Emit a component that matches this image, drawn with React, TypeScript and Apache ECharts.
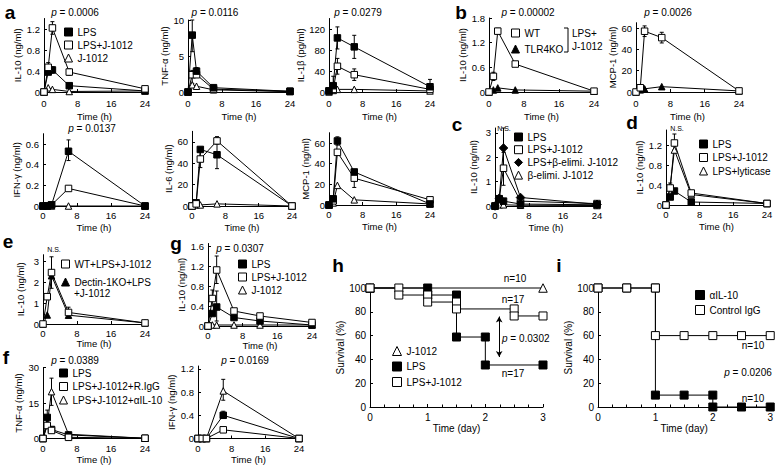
import React, { useEffect, useRef } from "react";
import * as echarts from "echarts";

const FONT = "'Liberation Sans', Arial, Helvetica, sans-serif";
const BLACK = "#000";

// ---------------- data ----------------
const hours = [0, 1, 2, 6, 24];
const hoursG = [0, 1, 2, 6, 12, 24];

// a: LPS / LPS+J-1012 / J-1012
const aIL10_LPS = [0, 0.38, 0.42, 0.12, 0.02];
const aIL10_LPSJ = [0, 0.47, 1.22, 0.38, 0.06];
const aIL10_J = [0, 0.08, 0.05, 0.01, 0.02];
const aIL10_err = [[1, 0.38, 0.56], [2, 1.1, 1.34], [6, 0.32, 0.44], [2, 0.36, 0.48]];

const aTNF_LPS = [0, 7.9, 2.9, 0.6, 0.1];
const aTNF_LPSJ = [0, 2.4, 2.4, 0.4, 0.1];
const aTNF_J = [0, 1.0, 0.8, 0.3, 0.05];
const aTNF_err = [[1, 5.6, 10], [1, 1.2, 3.0], [2, 2.2, 3.4]];

const aIL1b_LPS = [2, 12, 103, 86, 10];
const aIL1b_LPSJ = [2, 5, 49, 33, 5];
const aIL1b_J = [0, 3, 5, 5, 2];
const aIL1b_err = [[1, 0, 30], [2, 82, 124], [6, 64, 108], [24, 0, 24], [2, 34, 64], [6, 22, 44]];

const aIFN_LPS = [0, 0, 0.01, 0.53, 0];
const aIFN_LPSJ = [0, 0, 0.01, 0.17, 0];
const aIFN_J = [0, 0, 0, 0, 0];
const aIFN_err = [[6, 0.44, 0.64], [6, 0.15, 0.19]];

const aIL6_LPS = [0, 3, 53, 48, 0];
const aIL6_LPSJ = [0, 2, 44, 61, 0];
const aIL6_J = [0, 1, 1, 2, 0];
const aIL6_err = [[2, 36, 52], [6, 35, 60], [6, 58, 65]];

const aMCP_LPS = [0, 6, 62, 32, 1];
const aMCP_LPSJ = [0, 4, 51, 26, 5];
const aMCP_J = [0, 2, 19, 5, 1];
const aMCP_err = [[2, 58, 66], [6, 17, 31]];

// b: WT / TLR4KO (LPS+J-1012)
const bIL10_WT = [0, 0.38, 1.48, 0.68, 0.02];
const bIL10_KO = [0, 0.05, 0.1, 0.05, 0.02];
const bIL10_err = [[1, 0.28, 0.48], [2, 1.42, 1.55], [6, 0.63, 0.73]];
const bMCP_WT = [0, 4, 57, 51, 1];
const bMCP_KO = [0, 2, 3, 5, 1];
const bMCP_err = [[2, 52, 62], [6, 46, 56]];

// c
const cLPS = [0, 0.28, 0.2, 0.08, 0.05];
const cLPSJ = [0, 0.3, 1.55, 0.2, 0.1];
const cLPSbJ = [0, 0.32, 2.38, 0.35, 0.07];
const cbJ = [0, 0.05, 0.05, 0.03, 0.02];
const c_err = [[2, 1.6, 3.2], [2, 0.85, 2.2]];

// d
const dLPS = [0, 0.16, 0.28, 0.06, 0.03];
const dLPSJ = [0, 0.34, 1.24, 0.24, 0.03];
const dLPSlyt = [0, 0.38, 1.1, 0.21, 0.03];
const d_err = [[2, 1.1, 1.42], [1, 0.3, 0.44]];

// e
const eWT = [0, 1.3, 2.45, 0.55, 0.05];
const eDectin = [0, 0.43, 2.3, 0.42, 0.05];
const e_err = [[2, 1.7, 3.2], [6, 0.3, 0.8]];

// f
const fTNF_LPS = [0, 8.9, 3.8, 1.5, 0.1];
const fTNF_IgG = [0, 5.5, 3.4, 0.5, 0.1];
const fTNF_aIL10 = [0, 6.0, 19.8, 1.8, 0.1];
const fTNF_err = [[2, 14, 25.5], [1, 5, 12]];
const fIFN_LPS = [0, 0, 0, 0.4, 0];
const fIFN_IgG = [0, 0, 0, 0.15, 0];
const fIFN_aIL10 = [0, 0, 0, 0.82, 0];
const fIFN_err = [[6, 0.66, 1.02], [6, 0.35, 0.47]];

// g
const gLPS = [0, 0.25, 0.38, 0.17, 0.1, 0.02];
const gLPSJ = [0, 0.55, 1.12, 0.3, 0.2, 0.07];
const gJ = [0, 0.02, 0.02, 0.02, 0.02, 0.02];
const g_err = [[2, 0.85, 1.4], [1, 0.4, 0.72], [2, 0.1, 0.7]];

// h survival (days, %)
const hJ_days = [0, 3];
const hJ_surv = [100, 100];
const hLPS_days = [0, 1, 1, 1.5, 1.5, 2, 2, 3];
const hLPS_surv = [100, 100, 94.1, 94.1, 58.8, 58.8, 35.3, 35.3];
const hLPSJ_days = [0, 0.5, 0.5, 1, 1, 1.5, 1.5, 2.5, 2.5, 3];
const hLPSJ_surv = [100, 100, 94.1, 94.1, 88.2, 88.2, 82.4, 82.4, 76.5, 76.5];
const hArrow = [2.24, 76, 42];

// i survival
const iAnti_days = [0, 0.5, 1, 1, 1.5, 2, 2, 2.5, 3];
const iAnti_surv = [100, 100, 100, 10, 10, 10, 0, 0, 0];
const iIgG_days = [0, 0.5, 1, 1, 1.5, 2, 2.5, 3];
const iIgG_surv = [100, 100, 100, 60, 60, 60, 60, 60];

// tick labels
const hourTicks = [0, 8, 16, 24];
const survTicks = [0, 20, 40, 60, 80, 100];

// p values
const pA1 = "0.0006", pA2 = "0.0116", pA3 = "0.0279", pB1 = "0.00002", pB2 = "0.0026";
const pA4 = "0.0137", pG = "0.0307", pF1 = "0.0389", pF2 = "0.0169", pH = "0.0302", pI = "0.0206";

// ---------------- helpers ----------------
const mk = {
  sqF: { symbol: "rect", fill: "#000" },
  sqO: { symbol: "rect", fill: "#fff" },
  triO: { symbol: "triangle", fill: "#fff" },
  triF: { symbol: "triangle", fill: "#000" },
  diaF: { symbol: "diamond", fill: "#000" },
};

const grids: any[] = [];
const xAxes: any[] = [];
const yAxes: any[] = [];
const series: any[] = [];
const legends: any[] = [];
const graphics: any[] = [];

function addPanel(p: any) {
  const gi = grids.length;
  const fs = p.fs || 9.5;
  grids.push({ left: p.box[0], top: p.box[1], width: p.box[2], height: p.box[3], containLabel: false });
  xAxes.push({
    type: "value",
    gridIndex: gi,
    min: 0,
    max: p.xMax,
    interval: p.xInterval,
    axisLine: { show: true, onZero: false, lineStyle: { color: BLACK, width: 1 } },
    axisTick: { show: true, inside: true, length: 3, lineStyle: { color: BLACK, width: 1 } },
    minorTick: p.minor
      ? { show: true, splitNumber: 4, length: 2.5, lineStyle: { color: BLACK, width: 1 } }
      : { show: false },
    axisLabel: { show: true, color: BLACK, fontSize: fs, fontFamily: FONT, margin: p.xMargin },
    splitLine: { show: false },
    minorSplitLine: { show: false },
    name: p.xName,
    nameLocation: "middle",
    nameGap: p.xNameGap,
    nameTextStyle: { color: BLACK, fontSize: fs, fontFamily: FONT },
  });
  yAxes.push({
    type: "value",
    gridIndex: gi,
    min: 0,
    max: p.yMax,
    axisLine: { show: true, onZero: false, lineStyle: { color: BLACK, width: 1 } },
    axisTick: { show: true, inside: true, length: 3, customValues: p.yTicks, lineStyle: { color: BLACK, width: 1 } },
    axisLabel: {
      show: true,
      color: BLACK,
      fontSize: fs,
      fontFamily: FONT,
      margin: 4,
      customValues: p.yTicks,
      formatter: (v: number) => (p.yTicks.some((t: number) => Math.abs(t - v) < 1e-9) ? String(v) : ""),
    },
    splitLine: { show: false },
    name: p.yName,
    nameLocation: "middle",
    nameRotate: 90,
    nameGap: p.yNameGap,
    nameTextStyle: { color: BLACK, fontSize: fs, fontFamily: FONT },
  });
  return gi;
}

function line(name: string, gi: number, xs: number[], ys: number[], m: any, size = 6.5, extra: any = {}) {
  return {
    type: "line",
    name,
    xAxisIndex: gi,
    yAxisIndex: gi,
    data: xs.map((x, i) => [x, ys[i]]),
    symbol: m.symbol,
    symbolSize: m.symbol === "diamond" ? size + 2 : size,
    showAllSymbol: true,
    itemStyle: { color: m.fill, borderColor: BLACK, borderWidth: 1 },
    lineStyle: { color: BLACK, width: 1 },
    emphasis: { disabled: true },
    clip: false,
    silent: true,
    z: 3,
    ...extra,
  };
}

function errBars(gi: number, errs: number[][]) {
  return {
    type: "custom",
    xAxisIndex: gi,
    yAxisIndex: gi,
    data: errs,
    z: 2,
    silent: true,
    clip: false,
    encode: { x: 0, y: [1, 2] },
    renderItem: (_params: any, api: any) => {
      const x = api.value(0);
      const lo = api.value(1);
      const hi = api.value(2);
      const a = api.coord([x, lo]);
      const b = api.coord([x, hi]);
      const st = { stroke: BLACK, lineWidth: 1, fill: null };
      return {
        type: "group",
        children: [
          { type: "line", shape: { x1: a[0], y1: a[1], x2: b[0], y2: b[1] }, style: st },
          { type: "line", shape: { x1: b[0] - 2, y1: b[1], x2: b[0] + 2, y2: b[1] }, style: st },
          { type: "line", shape: { x1: a[0] - 2, y1: a[1], x2: a[0] + 2, y2: a[1] }, style: st },
        ],
      };
    },
  };
}

function legend(left: number, top: number, gap: number, items: any[], size = 8, fs = 10) {
  legends.push({
    left,
    top,
    orient: "vertical",
    itemGap: gap,
    itemWidth: size,
    itemHeight: size,
    padding: 0,
    selectedMode: false,
    textStyle: { fontSize: fs, fontFamily: FONT, color: BLACK },
    data: items.map((it) => ({
      name: it[0],
      icon: it[1],
      itemStyle: { color: it[2], borderColor: BLACK, borderWidth: 1 },
    })),
  });
}

function txt(x: number, y: number, text: string, o: any = {}) {
  graphics.push({
    type: "text",
    x,
    y,
    silent: true,
    style: { text, fill: BLACK, fontSize: 10, fontFamily: FONT, align: "center", verticalAlign: "middle", ...o },
  });
}

function pval(x: number, y: number, v: string, align = "center") {
  graphics.push({
    type: "text",
    x,
    y,
    silent: true,
    style: {
      text: "{i|p} = " + v,
      fill: BLACK,
      fontSize: 10,
      fontFamily: FONT,
      align,
      verticalAlign: "middle",
      rich: { i: { fontStyle: "italic", fontSize: 10, fontFamily: FONT, fill: BLACK } },
    },
  });
}

function letter(x: number, y: number, t: string) {
  txt(x, y, t, { fontSize: 19, fontWeight: "bold" });
}

function buildOption() {
  const T = "Time (h)";
  // ---- a row 1 ----
  let g = addPanel({ box: [44, 18.5, 101, 73.5], xMax: 24, xInterval: 8, xName: T, xMargin: 6, xNameGap: 19, yMax: 1.4, yTicks: [0, 0.4, 0.8, 1.2], yName: "IL-10 (ng/ml)", yNameGap: 19 });
  series.push(errBars(g, aIL10_err), line("J-1012", g, hours, aIL10_J, mk.triO), line("LPS", g, hours, aIL10_LPS, mk.sqF), line("LPS+J-1012", g, hours, aIL10_LPSJ, mk.sqO));
  legend(64, 27, 3, [["LPS", "rect", "#000"], ["LPS+J-1012", "rect", "#fff"], ["J-1012", "triangle", "#fff"]]);
  pval(75, 12, pA1);

  g = addPanel({ box: [188, 20, 102, 72], xMax: 24, xInterval: 8, xName: T, xMargin: 6, xNameGap: 19, yMax: 10, yTicks: [0, 5, 10], yName: "TNF-α (ng/ml)", yNameGap: 19 });
  series.push(errBars(g, aTNF_err), line("J-1012", g, hours, aTNF_J, mk.triO), line("LPS+J-1012", g, hours, aTNF_LPSJ, mk.sqO), line("LPS", g, hours, aTNF_LPS, mk.sqF));
  pval(215, 12, pA2);

  g = addPanel({ box: [329, 18.5, 101, 73.5], xMax: 24, xInterval: 8, xName: T, xMargin: 6, xNameGap: 19, yMax: 140, yTicks: [0, 40, 80, 120], yName: "IL-1β (pg/ml)", yNameGap: 17 });
  series.push(errBars(g, aIL1b_err), line("J-1012", g, hours, aIL1b_J, mk.triO), line("LPS+J-1012", g, hours, aIL1b_LPSJ, mk.sqO), line("LPS", g, hours, aIL1b_LPS, mk.sqF));
  pval(358, 12, pA3);

  // ---- b ----
  g = addPanel({ box: [489, 18, 105, 74], xMax: 24, xInterval: 8, xName: T, xMargin: 6, xNameGap: 19, yMax: 1.8, yTicks: [0, 0.6, 1.2, 1.8], yName: "IL-10 (ng/ml)", yNameGap: 16 });
  series.push(errBars(g, bIL10_err), line("TLR4KO", g, hours, bIL10_KO, mk.triF), line("WT", g, hours, bIL10_WT, mk.sqO));
  legend(511, 28, 6, [["WT", "rect", "#fff"], ["TLR4KO", "triangle", "#000"]]);
  pval(528, 12, pB1);
  graphics.push({ type: "polyline", silent: true, shape: { points: [[564, 28], [568, 28], [568, 52], [564, 52]] }, style: { stroke: BLACK, lineWidth: 1, fill: null } });
  txt(572, 33, "LPS+", { align: "left" });
  txt(572, 46, "J-1012", { align: "left" });

  g = addPanel({ box: [636, 22.7, 103, 69.3], xMax: 24, xInterval: 8, xName: T, xMargin: 6, xNameGap: 19, yMax: 65, yTicks: [0, 20, 40, 60], yName: "MCP-1 (ng/ml)", yNameGap: 16.5 });
  series.push(errBars(g, bMCP_err), line("TLR4KO", g, hours, bMCP_KO, mk.triF), line("WT", g, hours, bMCP_WT, mk.sqO));
  pval(668, 12, pB2);

  // ---- a row 2 ----
  g = addPanel({ box: [43, 133.7, 102, 72.3], xMax: 24, xInterval: 8, xName: T, xMargin: 4, xNameGap: 16, yMax: 0.7, yTicks: [0, 0.2, 0.4, 0.6], yName: "IFN-γ (ng/ml)", yNameGap: 19.5 });
  series.push(errBars(g, aIFN_err), line("J-1012", g, hours, aIFN_J, mk.triO), line("LPS+J-1012", g, hours, aIFN_LPSJ, mk.sqO), line("LPS", g, hours, aIFN_LPS, mk.sqF));
  pval(92, 128, pA4);

  g = addPanel({ box: [192, 131.3, 100, 74.7], xMax: 24, xInterval: 8, xName: T, xMargin: 4, xNameGap: 16, yMax: 70, yTicks: [0, 20, 40, 60], yName: "IL-6 (ng/ml)", yNameGap: 16.5 });
  series.push(errBars(g, aIL6_err), line("J-1012", g, hours, aIL6_J, mk.triO), line("LPS", g, hours, aIL6_LPS, mk.sqF), line("LPS+J-1012", g, hours, aIL6_LPSJ, mk.sqO));

  g = addPanel({ box: [329, 132.7, 101, 72.3], xMax: 24, xInterval: 8, xName: T, xMargin: 4, xNameGap: 16, yMax: 70, yTicks: [0, 20, 40, 60], yName: "MCP-1 (ng/ml)", yNameGap: 16.5 });
  series.push(errBars(g, aMCP_err), line("J-1012", g, hours, aMCP_J, mk.triO), line("LPS+J-1012", g, hours, aMCP_LPSJ, mk.sqO), line("LPS", g, hours, aMCP_LPS, mk.sqF));

  // ---- c ----
  g = addPanel({ box: [495, 128, 102, 78], xMax: 24, xInterval: 8, xName: T, xMargin: 4, xNameGap: 16, yMax: 3.2, yTicks: [0, 1, 2, 3], yName: "IL-10 (ng/ml)", yNameGap: 16.5 });
  series.push(errBars(g, c_err), line("β-elimi. J-1012", g, hours, cbJ, mk.triO), line("LPS+J-1012", g, hours, cLPSJ, mk.sqO), line("LPS", g, hours, cLPS, mk.sqF), line("LPS+β-elimi. J-1012", g, hours, cLPSbJ, mk.diaF));
  legend(514, 132, 2.7, [["LPS", "rect", "#000"], ["LPS+J-1012", "rect", "#fff"], ["LPS+β-elimi. J-1012", "diamond", "#000"], ["β-elimi. J-1012", "triangle", "#fff"]]);
  txt(504, 128, "N.S.", { fontSize: 7 });

  // ---- d ----
  g = addPanel({ box: [666, 130, 101, 75], xMax: 24, xInterval: 8, xName: T, xMargin: 4, xNameGap: 16, yMax: 1.5, yTicks: [0, 0.4, 0.8, 1.2], yName: "IL-10 (ng/ml)", yNameGap: 16.5 });
  series.push(errBars(g, d_err), line("LPS+lyticase", g, hours, dLPSlyt, mk.triO), line("LPS", g, hours, dLPS, mk.sqF), line("LPS+J-1012", g, hours, dLPSJ, mk.sqO));
  legend(699, 139, 3.5, [["LPS", "rect", "#000"], ["LPS+J-1012", "rect", "#fff"], ["LPS+lyticase", "triangle", "#fff"]]);
  txt(677, 128, "N.S.", { fontSize: 7 });

  // ---- e ----
  g = addPanel({ box: [43, 254.7, 102, 69.3], xMax: 24, xInterval: 8, xName: T, xMargin: 4, xNameGap: 14, yMax: 3.3, yTicks: [0, 1, 2, 3], yName: "IL-10 (ng/ml)", yNameGap: 17.5 });
  series.push(errBars(g, e_err), line("Dectin-1KO+LPS", g, hours, eDectin, mk.triF), line("WT+LPS+J-1012", g, hours, eWT, mk.sqO));
  legend(61, 259, 8, [["WT+LPS+J-1012", "rect", "#fff"], ["Dectin-1KO+LPS", "triangle", "#000"]]);
  txt(74, 293, "+J-1012", { align: "left" });
  txt(54, 249, "N.S.", { fontSize: 7 });

  // ---- g ----
  g = addPanel({ box: [208, 243.5, 104, 82.5], xMax: 24, xInterval: 8, xName: T, xMargin: 4, xNameGap: 14, yMax: 1.65, yTicks: [0, 0.4, 0.8, 1.2, 1.6], yName: "IL-10 (ng/ml)", yNameGap: 15.5 });
  series.push(errBars(g, g_err), line("J-1012", g, hoursG, gJ, mk.triO), line("LPS", g, hoursG, gLPS, mk.sqF), line("LPS+J-1012", g, hoursG, gLPSJ, mk.sqO));
  legend(238, 259, 3, [["LPS", "rect", "#000"], ["LPS+J-1012", "rect", "#fff"], ["J-1012", "triangle", "#fff"]]);
  pval(240, 248, pG);

  // ---- f ----
  g = addPanel({ box: [43, 367.5, 102, 71], xMax: 24, xInterval: 8, xName: T, xMargin: 5, xNameGap: 15, yMax: 30, yTicks: [0, 15, 30], yName: "TNF-α (ng/ml)", yNameGap: 19.5 });
  series.push(errBars(g, fTNF_err), line("LPS+J-1012+αIL-10", g, hours, fTNF_aIL10, mk.triO), line("LPS", g, hours, fTNF_LPS, mk.sqF), line("LPS+J-1012+R.IgG", g, hours, fTNF_IgG, mk.sqO));
  legend(59, 368, 3.5, [["LPS", "rect", "#000"], ["LPS+J-1012+R.IgG", "rect", "#fff"], ["LPS+J-1012+αIL-10", "triangle", "#fff"]]);
  pval(75, 360, pF1);

  g = addPanel({ box: [198, 366, 101, 72.5], xMax: 24, xInterval: 8, xName: T, xMargin: 5, xNameGap: 15, yMax: 1.25, yTicks: [0, 0.4, 0.8, 1.2], yName: "IFN-γ (ng/ml)", yNameGap: 14.5 });
  series.push(errBars(g, fIFN_err), line("LPS+J-1012+αIL-10", g, hours, fIFN_aIL10, mk.triO), line("LPS", g, hours, fIFN_LPS, mk.sqF), line("LPS+J-1012+R.IgG", g, hours, fIFN_IgG, mk.sqO));
  pval(245, 360, pF2);

  // ---- h ----
  g = addPanel({ box: [370, 288, 173, 119], xMax: 3, xInterval: 1, minor: true, xName: "Time (day)", xMargin: 5, xNameGap: 16, yMax: 100, yTicks: survTicks, yName: "Survival (%)", yNameGap: 24.5, fs: 10 });
  series.push(
    line("J-1012", g, hJ_days, hJ_surv, mk.triO, 8.5),
    line("LPS", g, hLPS_days, hLPS_surv, mk.sqF, 8, {
      markLine: {
        silent: true,
        symbol: ["arrow", "arrow"],
        symbolSize: [5, 6],
        lineStyle: { color: BLACK, width: 1, type: "solid" },
        label: { show: false },
        data: [[{ coord: [hArrow[0], hArrow[1]] }, { coord: [hArrow[0], hArrow[2]] }]],
      },
    }),
    line("LPS+J-1012", g, hLPSJ_days, hLPSJ_surv, mk.sqO, 8)
  );
  legend(392, 346, 5.5, [["J-1012", "triangle", "#fff"], ["LPS", "rect", "#000"], ["LPS+J-1012", "rect", "#fff"]], 9, 10);
  pval(502, 338, pH, "left");
  txt(515, 278, "n=10");
  txt(513, 299, "n=17");
  txt(513, 373, "n=17");

  // ---- i ----
  g = addPanel({ box: [598, 288, 174, 119], xMax: 3, xInterval: 1, minor: true, xName: "Time (day)", xMargin: 5, xNameGap: 16, yMax: 100, yTicks: survTicks, yName: "Survival (%)", yNameGap: 24.5, fs: 10 });
  series.push(line("αIL-10", g, iAnti_days, iAnti_surv, mk.sqF, 8), line("Control IgG", g, iIgG_days, iIgG_surv, mk.sqO, 8));
  legend(695, 290, 5, [["αIL-10", "rect", "#000"], ["Control IgG", "rect", "#fff"]], 9, 10);
  pval(748, 372, pI);
  txt(753, 345, "n=10");
  txt(753, 398, "n=10");

  // panel letters
  letter(10, 12, "a");
  letter(461, 12, "b");
  letter(457, 124, "c");
  letter(632, 122, "d");
  letter(8, 241, "e");
  letter(176, 243, "g");
  letter(6, 357, "f");
  letter(338, 265, "h");
  letter(559, 265, "i");

  return {
    animation: false,
    backgroundColor: "#fff",
    textStyle: { fontFamily: FONT },
    grid: grids,
    xAxis: xAxes,
    yAxis: yAxes,
    series,
    legend: legends,
    graphic: graphics,
  };
}

export default function App() {
  const ref = useRef<HTMLDivElement>(null);
  useEffect(() => {
    if (!ref.current) return;
    grids.length = 0;
    xAxes.length = 0;
    yAxes.length = 0;
    series.length = 0;
    legends.length = 0;
    graphics.length = 0;
    const chart = echarts.init(ref.current, null, { renderer: "svg", width: 776, height: 467 });
    chart.setOption(buildOption());
    return () => chart.dispose();
  }, []);
  return (
    <div
      ref={ref}
      style={{ position: "fixed", left: 0, top: 0, width: 776, height: 467, background: "#fff" }}
    />
  );
}
